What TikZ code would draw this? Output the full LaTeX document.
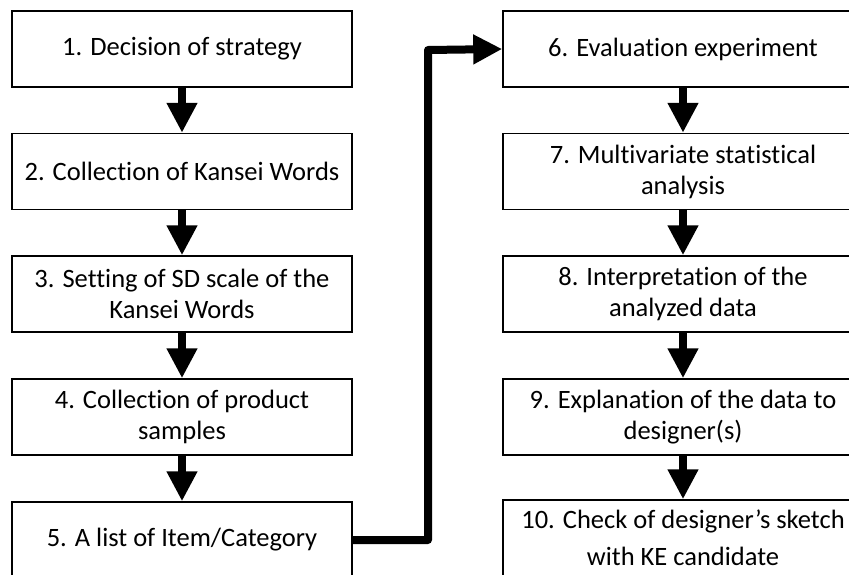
\documentclass[tikz,border=0pt]{standalone}
\usepackage{fontspec}
\setmainfont{Carlito}[Ligatures=NoCommon]
\usetikzlibrary{arrows.meta}
\begin{document}
\begin{tikzpicture}[x=1pt,y=-1pt,
  stepbox/.style={draw=black, line width=1.5pt, rectangle, minimum height=76pt, align=center, inner sep=0pt,
    font=\fontsize{26.5}{31}\selectfont},
  leftbox/.style={stepbox, minimum width=340pt},
  rightbox/.style={stepbox, minimum width=360pt},
  flow/.style={line width=8pt, -{Triangle[length=30pt,width=29pt]}},
  link/.style={line width=8pt, line join=round, -{Triangle[length=29pt,width=28pt]}}]
\useasboundingbox (0,0) rectangle (849,574);
\begin{scope}
\clip (0,0) rectangle (849,574);
\node[leftbox] (n1) at (182,49) {1. Decision of strategy};
\node[leftbox] (n2) at (182,171.5) {2. Collection of Kansei Words};
\node[leftbox] (n3) at (182,294) {3. Setting of SD scale of the\\Kansei Words};
\node[leftbox] (n4) at (182,417) {4. Collection of product\\samples};
\node[leftbox] (n5) at (182,540) {5. A list of Item/Category};
\node[rightbox] (n6) at (683,49) {6. Evaluation experiment};
\node[rightbox] (n7) at (683,171.5) {7. Multivariate statistical\\analysis};
\node[rightbox] (n8) at (683,294) {8. Interpretation of the\\analyzed data};
\node[rightbox] (n9) at (683,417) {9. Explanation of the data to\\designer(s)};
\node[rightbox] (n10) at (683,538) {10. Check of designer’s sketch\\[6pt]with KE candidate};
\end{scope}
\foreach \a/\b in {n1/n2,n2/n3,n3/n4,n4/n5,n6/n7,n7/n8,n8/n9,n9/n10}
  \draw[flow] (\a.south) -- (\b.north);
\coordinate (c1) at (428,540);
\coordinate (c2) at (428,50);
\draw[link] (n5.east) -- (c1) -- (c2) -- (n6.west);
\end{tikzpicture}
\end{document}
